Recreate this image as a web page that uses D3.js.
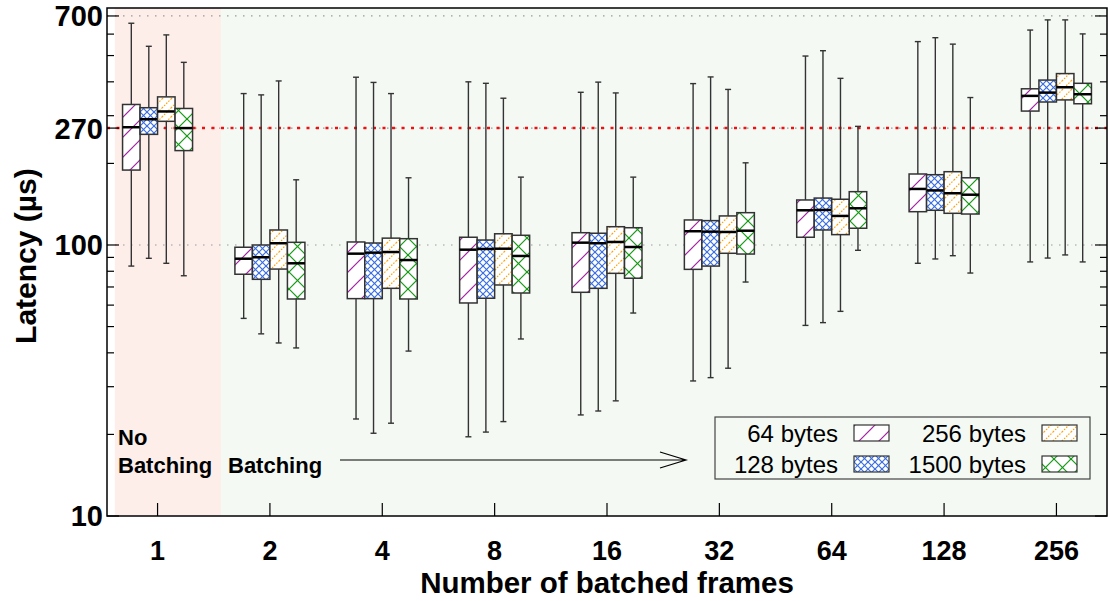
<!DOCTYPE html>
<html>
<head>
<meta charset="utf-8">
<script src="https://cdn.jsdelivr.net/npm/d3@7"></script>
<style>
  body { margin: 0; background: #fff; }
  svg { display: block; font-family: "Liberation Sans", Arial, sans-serif; }
</style>
</head>
<body>
<div id="chart"></div>
<script>
'use strict';

// x categories (number of batched frames)
const categories = ["1", "2", "4", "8", "16", "32", "64", "128", "256"];
const seriesNames = ["64 bytes", "128 bytes", "256 bytes", "1500 bytes"];

// each entry: [whisker low, q1, median, q3, whisker high], latency in µs
const lat64 = [
  [83.6, 189, 272, 330, 658], [53.6, 78, 89, 98.1, 362], [22.8, 63.4, 92.9, 102.6, 416],
  [19.6, 61.1, 96.1, 106.8, 400], [23.6, 66.9, 102, 111, 366], [31.5, 81.3, 112.4, 123.7, 394],
  [50.5, 106.8, 134.3, 146.6, 498], [85.6, 132.7, 161, 182.8, 563], [86.6, 312, 355, 377, 621]
];
const lat128 = [
  [89.3, 256, 291, 321, 541], [47, 74.7, 90.1, 100, 358], [20.2, 63.4, 93.7, 101.7, 398],
  [20.4, 63.6, 96.7, 104.3, 395], [24.4, 69.2, 101.5, 110.5, 399], [32.4, 83.6, 112, 123, 417],
  [51.7, 113.6, 134.7, 149, 521], [88.8, 134.3, 159, 181.7, 582], [89.5, 337, 365, 406, 677]
];
const lat256 = [
  [85.6, 286, 311, 352, 596], [43.5, 81.5, 101.5, 113.6, 403], [22, 69.2, 94.2, 106, 362],
  [22.3, 71.2, 96.9, 110, 348], [26.6, 78.6, 102.6, 116.8, 364], [35.1, 93.2, 111.7, 128, 375],
  [56.9, 109.2, 128, 147.5, 412], [91.3, 130.9, 155.2, 186.4, 551], [91.9, 343, 382, 429, 677]
];
const lat1500 = [
  [77, 223, 270, 319, 472], [41.7, 63.2, 85.6, 102.3, 174], [40.6, 63.2, 88, 105.5, 177],
  [45, 66.5, 91.1, 108.6, 178], [56.1, 75.4, 98.3, 115.8, 178], [73, 92.6, 112.9, 131.6, 201],
  [95.6, 115.3, 136.6, 157.3, 274], [78.8, 130.1, 153.3, 177, 350], [86.6, 332, 360, 395, 601]
];

const yMajorTicks = [10, 100, 270, 700];
const yMinorTicks = [20, 30, 40, 50, 60, 70, 80, 90, 200, 300, 400, 500, 600];
const referenceLatency = 270;

const allSeries = [lat64, lat128, lat256, lat1500];
const patternIds = ["p64", "p128", "p256", "p1500"];

// layout
const W = 1110, H = 601;
const margin = {top: 8, right: 3, bottom: 85, left: 107};
const plotLeft = margin.left, plotRight = W - margin.right;
const plotTop = margin.top, plotBottom = H - margin.bottom;

const svg = d3.select("#chart")
  .append("svg")
    .attr("width", W)
    .attr("height", H);

const x = d3.scaleLinear()
  .domain([0.55, categories.length + 0.45])
  .range([plotLeft, plotRight]);

const y = d3.scaleLog()
  .domain([10, 749])
  .range([plotBottom, plotTop]);

// offset of each series inside a group
const inner = d3.scaleBand()
  .domain(seriesNames)
  .range([-35, 35]);

// fill patterns
const defs = svg.append("defs");
function makePattern(id, size, color, lines, dash) {
  const p = defs.append("pattern")
    .attr("id", id)
    .attr("patternUnits", "userSpaceOnUse")
    .attr("width", size)
    .attr("height", size);
  p.append("rect").attr("width", size).attr("height", size).attr("fill", "#fff");
  lines.forEach(l => {
    p.append("line")
      .attr("x1", l[0] * size).attr("y1", l[1] * size)
      .attr("x2", l[2] * size).attr("y2", l[3] * size)
      .attr("stroke", color)
      .attr("stroke-width", 1.2)
      .attr("stroke-dasharray", dash || null);
  });
}
const slash = [[0, 1, 1, 0], [-0.5, 0.5, 0.5, -0.5], [0.5, 1.5, 1.5, 0.5]];
const cross = [[0, 0, 1, 1], [0, 1, 1, 0]];
makePattern("p64", 20, "#a020a0", slash);
makePattern("p128", 7, "#3a6ee0", cross);
makePattern("p256", 9, "#ffa000", slash, "1.5,1.5");
makePattern("p1500", 17, "#109a10", cross);

// background shading: no batching / batching
svg.append("rect")
  .attr("x", x(0.62)).attr("y", plotTop)
  .attr("width", x(1.565) - x(0.62)).attr("height", plotBottom - plotTop)
  .attr("fill", "#fdeeea");
svg.append("rect")
  .attr("x", x(1.565)).attr("y", plotTop)
  .attr("width", plotRight - x(1.565)).attr("height", plotBottom - plotTop)
  .attr("fill", "#f4f9f4");

// grid lines at major ticks
svg.append("g")
  .selectAll("line")
  .data(yMajorTicks.filter(d => d > 10))
  .join("line")
    .attr("x1", plotLeft).attr("x2", plotRight)
    .attr("y1", d => y(d)).attr("y2", d => y(d))
    .attr("stroke", "#999")
    .attr("stroke-width", 1.2)
    .attr("stroke-dasharray", "1.5,6.5");

// 270 µs reference line
svg.append("line")
  .attr("x1", plotLeft).attr("x2", plotRight)
  .attr("y1", y(referenceLatency)).attr("y2", y(referenceLatency))
  .attr("stroke", "#ee1111")
  .attr("stroke-width", 2.5)
  .attr("stroke-dasharray", "3,6.5");

// box plots
const boxW = inner.bandwidth();
allSeries.forEach((series, s) => {
  const g = svg.append("g");
  const cx = i => x(i + 1) + inner(seriesNames[s]) + boxW / 2;
  const groups = g.selectAll("g")
    .data(series)
    .join("g");
  // whiskers
  groups.append("line")
    .attr("x1", (d, i) => cx(i)).attr("x2", (d, i) => cx(i))
    .attr("y1", d => y(d[0])).attr("y2", d => y(d[1]))
    .attr("stroke", "#333").attr("stroke-width", 1.4);
  groups.append("line")
    .attr("x1", (d, i) => cx(i)).attr("x2", (d, i) => cx(i))
    .attr("y1", d => y(d[3])).attr("y2", d => y(d[4]))
    .attr("stroke", "#333").attr("stroke-width", 1.4);
  [0, 4].forEach(k => {
    groups.append("line")
      .attr("x1", (d, i) => cx(i) - 3).attr("x2", (d, i) => cx(i) + 3)
      .attr("y1", d => y(d[k])).attr("y2", d => y(d[k]))
      .attr("stroke", "#333").attr("stroke-width", 1.4);
  });
  // box
  groups.append("rect")
    .attr("x", (d, i) => cx(i) - boxW / 2)
    .attr("y", d => y(d[3]))
    .attr("width", boxW)
    .attr("height", d => y(d[1]) - y(d[3]))
    .attr("fill", `url(#${patternIds[s]})`)
    .attr("stroke", "#333")
    .attr("stroke-width", 1.5);
  // median
  groups.append("line")
    .attr("x1", (d, i) => cx(i) - boxW / 2).attr("x2", (d, i) => cx(i) + boxW / 2)
    .attr("y1", d => y(d[2])).attr("y2", d => y(d[2]))
    .attr("stroke", "#000").attr("stroke-width", 2.5);
});

// frame
svg.append("rect")
  .attr("x", plotLeft).attr("y", plotTop)
  .attr("width", plotRight - plotLeft).attr("height", plotBottom - plotTop)
  .attr("fill", "none")
  .attr("stroke", "#000")
  .attr("stroke-width", 1.5);

// y ticks, inward on both sides
const tickG = svg.append("g").attr("stroke", "#000").attr("stroke-width", 1.2);
[[yMajorTicks, 12], [yMinorTicks, 7]].forEach(([ticks, len]) => {
  ticks.forEach(t => {
    tickG.append("line").attr("x1", plotLeft).attr("x2", plotLeft + len)
      .attr("y1", y(t)).attr("y2", y(t));
    tickG.append("line").attr("x1", plotRight).attr("x2", plotRight - len)
      .attr("y1", y(t)).attr("y2", y(t));
  });
});
categories.forEach((c, i) => {
  tickG.append("line")
    .attr("x1", x(i + 1)).attr("x2", x(i + 1))
    .attr("y1", plotBottom).attr("y2", plotBottom - 13);
});

// tick labels
svg.append("g")
  .selectAll("text")
  .data(yMajorTicks)
  .join("text")
    .attr("x", plotLeft - 4)
    .attr("y", d => y(d))
    .attr("dy", "0.36em")
    .attr("text-anchor", "end")
    .attr("font-size", 29)
    .attr("font-weight", "bold")
    .text(d => d);

svg.append("g")
  .selectAll("text")
  .data(categories)
  .join("text")
    .attr("x", (d, i) => x(i + 1))
    .attr("y", 560)
    .attr("text-anchor", "middle")
    .attr("font-size", 27)
    .attr("font-weight", "bold")
    .text(d => d);

// axis titles
svg.append("text")
  .attr("x", (plotLeft + plotRight) / 2)
  .attr("y", 593)
  .attr("text-anchor", "middle")
  .attr("font-size", 29.5)
  .attr("font-weight", "bold")
  .text("Number of batched frames");

svg.append("text")
  .attr("transform", `translate(36,${y(referenceLatency) + 128}) rotate(-90)`)
  .attr("text-anchor", "middle")
  .attr("font-size", 30)
  .attr("font-weight", "bold")
  .text("Latency (µs)");

// region annotations
const note = svg.append("g")
  .attr("font-size", 22)
  .attr("font-weight", "bold");
note.append("text").attr("x", 118).attr("y", 445).text("No");
note.append("text").attr("x", 118).attr("y", 473).text("Batching");
note.append("text").attr("x", 228).attr("y", 473).text("Batching");

svg.append("path")
  .attr("d", "M340,460 H686 M660,452 L686,460 L660,468")
  .attr("fill", "none")
  .attr("stroke", "#000")
  .attr("stroke-width", 1.2);

// legend
const legend = svg.append("g");
legend.append("rect")
  .attr("x", 715).attr("y", 417)
  .attr("width", 375).attr("height", 62)
  .attr("fill", "none")
  .attr("stroke", "#444")
  .attr("stroke-width", 1.2);

const legendCols = [838, 1026];
seriesNames.forEach((name, s) => {
  const col = Math.floor(s / 2), row = s % 2;
  const ly = 433 + row * 31;
  legend.append("text")
    .attr("x", legendCols[col])
    .attr("y", ly)
    .attr("dy", "0.36em")
    .attr("text-anchor", "end")
    .attr("font-size", 24)
    .text(name);
  legend.append("rect")
    .attr("x", legendCols[col] + 16)
    .attr("y", ly - 8)
    .attr("width", 35)
    .attr("height", 16)
    .attr("fill", `url(#${patternIds[s]})`)
    .attr("stroke", "#333")
    .attr("stroke-width", 1.2);
});
</script>
</body>
</html>
